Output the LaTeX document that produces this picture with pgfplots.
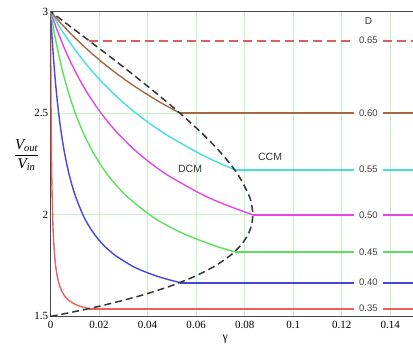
\documentclass[border=0pt]{standalone}
\usepackage{pgfplots}
\pgfplotsset{compat=1.18}
\usepackage{fontspec}
\setmainfont{Liberation Serif}
\newfontfamily\sansf{Liberation Sans}
\definecolor{cRed}{RGB}{235,95,95}
\definecolor{cBlue}{RGB}{70,70,215}
\definecolor{cGreen}{RGB}{90,225,90}
\definecolor{cMag}{RGB}{228,70,228}
\definecolor{cCyan}{RGB}{70,222,222}
\definecolor{cBrown}{RGB}{165,105,70}
\definecolor{cDRed}{RGB}{220,95,95}
\definecolor{cBound}{RGB}{55,55,55}
\definecolor{gridgreen}{RGB}{195,245,195}
\begin{document}
\begin{tikzpicture}
\begin{axis}[
  scale only axis, width=363.5pt, height=304.5pt,
  xmin=0, xmax=0.15, ymin=1.5, ymax=3,
  clip mode=individual,
  xtick={0,0.02,0.04,0.06,0.08,0.1,0.12,0.14},
  xticklabels={0,0.02,0.04,0.06,0.08,0.1,0.12,0.14},
  ytick={1.5,2,2.5,3}, yticklabels={1.5,2,2.5,3},
  scaled ticks=false,
  grid=major, major grid style={color=gridgreen, line width=0.7pt},
  major tick length=0pt,
  axis line style={draw=black!72, line width=0.9pt},
  tick label style={font=\fontsize{11}{12}\selectfont},
  xticklabel style={yshift=-1pt},
  yticklabel style={xshift=1pt},
  every axis plot/.append style={line width=1.4pt},
  hline/.style={line width=2pt},
]
% D = 0.35
\addplot[cRed, smooth] coordinates {(0,3)(0.0000641,2.8)(0.0001515,2.6)(0.000278,2.4)(0.000476,2.2)(0.000833,2.0)(0.001146,1.9)(0.001667,1.8)(0.002083,1.75)(0.002708,1.7)(0.00375,1.65)(0.004792,1.62)(0.005833,1.6)(0.007396,1.58)(0.01,1.56)(0.012083,1.55)(0.015208,1.54)(0.015833,1.538462)};
\addplot[cRed, hline] coordinates {(0.015833,1.538462)(0.15,1.538462)};
% D = 0.40
\addplot[cBlue, smooth] coordinates {(0,3)(0.000476,2.9)(0.001026,2.8)(0.001667,2.7)(0.002424,2.6)(0.003333,2.5)(0.004444,2.4)(0.005833,2.3)(0.007619,2.2)(0.01,2.1)(0.013333,2.0)(0.015556,1.95)(0.018333,1.9)(0.021905,1.85)(0.026667,1.8)(0.033333,1.75)(0.037778,1.725)(0.043333,1.7)(0.047879,1.6833)(0.053333,1.666667)};
\addplot[cBlue, hline] coordinates {(0.053333,1.666667)(0.15,1.666667)};
% D = 0.45
\addplot[cGreen, smooth] coordinates {(0,3)(0.001458,2.9)(0.003141,2.8)(0.005104,2.7)(0.007424,2.6)(0.010208,2.5)(0.013611,2.4)(0.017865,2.3)(0.023333,2.2)(0.030625,2.1)(0.040833,2.0)(0.047639,1.95)(0.056146,1.9)(0.067083,1.85)(0.072386,1.83)(0.075833,1.818182)};
\addplot[cGreen, hline] coordinates {(0.075833,1.818182)(0.15,1.818182)};
% D = 0.50
\addplot[cMag, smooth] coordinates {(0,3)(0.002976,2.9)(0.00641,2.8)(0.010417,2.7)(0.015152,2.6)(0.020833,2.5)(0.027778,2.4)(0.036458,2.3)(0.047619,2.2)(0.0625,2.1)(0.07197,2.05)(0.083333,2.0)};
\addplot[cMag, hline] coordinates {(0.083333,2.0)(0.15,2.0)};
% D = 0.55
\addplot[cCyan, smooth] coordinates {(0,3)(0.00503,2.9)(0.010833,2.8)(0.017604,2.7)(0.025606,2.6)(0.035208,2.5)(0.046944,2.4)(0.061615,2.3)(0.070417,2.25)(0.075833,2.222222)};
\addplot[cCyan, hline] coordinates {(0.075833,2.222222)(0.15,2.222222)};
% D = 0.60
\addplot[cBrown, smooth] coordinates {(0,3)(0.003678,2.95)(0.007619,2.9)(0.011852,2.85)(0.01641,2.8)(0.021333,2.75)(0.026667,2.7)(0.032464,2.65)(0.038788,2.6)(0.045714,2.55)(0.053333,2.5)};
\addplot[cBrown, hline] coordinates {(0.053333,2.5)(0.15,2.5)};
% D = 0.65
\addplot[cDRed, hline, dash pattern=on 9pt off 5pt] coordinates {(0.015833,2.857143)(0.15,2.857143)};
% boundary
\addplot[cBound, smooth, line width=1.5pt, dash pattern=on 7pt off 4pt] coordinates {(0,1.5)(0.008541,1.52)(0.020118,1.55)(0.036458,1.6)(0.049587,1.65)(0.059977,1.7)(0.068027,1.75)(0.074074,1.8)(0.078403,1.85)(0.081256,1.9)(0.08284,1.95)(0.083333,2.0)(0.082887,2.05)(0.081633,2.1)(0.077135,2.2)(0.070573,2.3)(0.0625,2.4)(0.053333,2.5)(0.043393,2.6)(0.032922,2.7)(0.022109,2.8)(0.011098,2.9)(0.005554,2.95)(0,3)};
% labels
\tikzset{vlab/.style={font=\sansf\fontsize{9.5}{10}\selectfont, fill=white, inner xsep=5pt, inner ysep=1.5pt, text=black!75}}
\node[vlab] at (axis cs:0.131,2.857143) {0.65};
\node[vlab] at (axis cs:0.131,2.5) {0.60};
\node[vlab] at (axis cs:0.131,2.222222) {0.55};
\node[vlab] at (axis cs:0.131,2.0) {0.50};
\node[vlab] at (axis cs:0.131,1.818182) {0.45};
\node[vlab] at (axis cs:0.131,1.666667) {0.40};
\node[vlab] at (axis cs:0.131,1.538462) {0.35};
\node[font=\sansf\fontsize{10}{11}\selectfont, text=black!80] at (axis cs:0.131,2.953) {D};
\node[font=\sansf\fontsize{10.5}{12}\selectfont, text=black!80] at (axis cs:0.0575,2.224) {DCM};
\node[font=\sansf\fontsize{10.5}{12}\selectfont, text=black!80] at (axis cs:0.0905,2.283) {CCM};
\node[font=\fontsize{12}{14}\selectfont] at (rel axis cs:0.48,0) [yshift=-23pt] {γ};
\node[font=\fontsize{15}{18}\selectfont] at (rel axis cs:-0.066,0.529) {$\displaystyle\frac{\hbox{\itshape V\textsubscript{out}}}{\hbox{\itshape V\textsubscript{in}}}$};
\coordinate (bbl) at (rel axis cs:-0.139,-0.095);
\coordinate (btr) at (rel axis cs:0.996,1.038);
\end{axis}
\pgfresetboundingbox
\path[use as bounding box] (bbl) rectangle (btr);
\end{tikzpicture}
\end{document}
